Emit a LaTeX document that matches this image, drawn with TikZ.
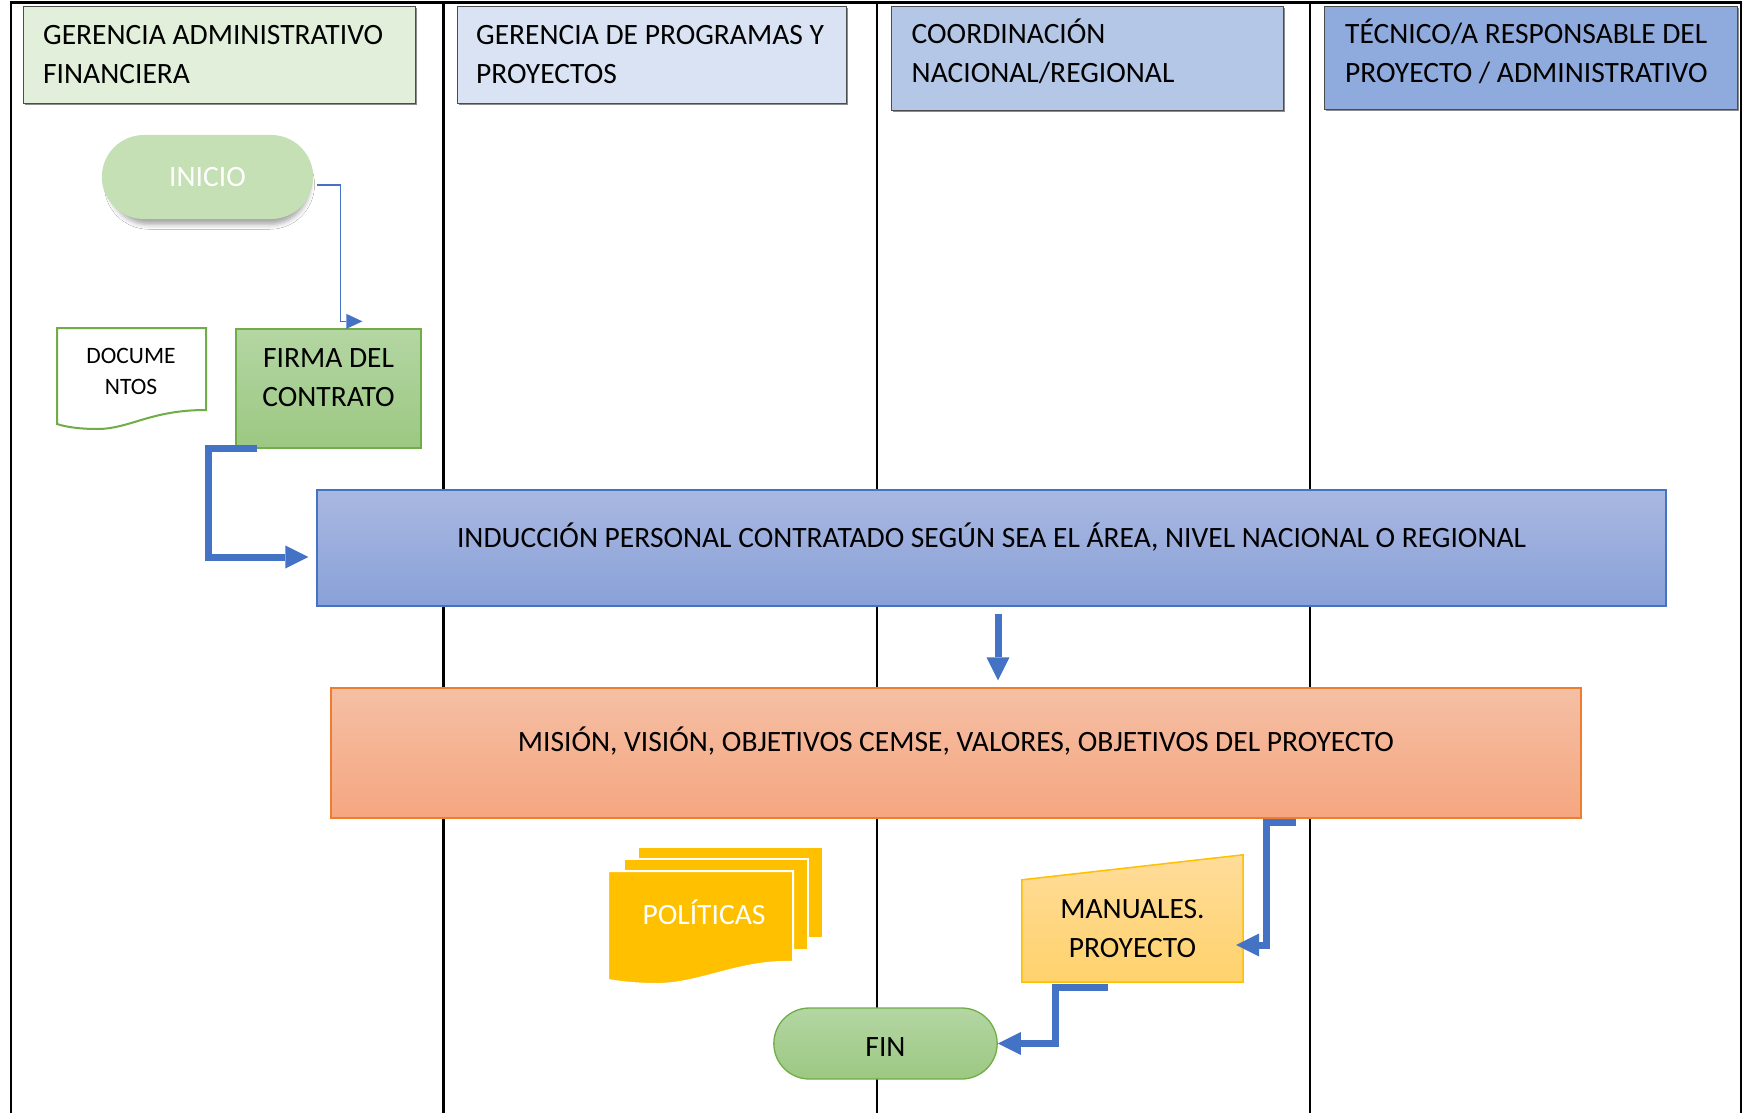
\documentclass[tikz,border=0pt]{standalone}
\usepackage{fontspec}
\setmainfont{Carlito}
\usetikzlibrary{arrows.meta,shapes.misc,shadows,shadows.blur,calc}
\definecolor{hdrA}{HTML}{E2EFDA}
\definecolor{hdrB}{HTML}{DAE3F3}
\definecolor{hdrC}{HTML}{B4C7E7}
\definecolor{hdrD}{HTML}{8FAADC}
\definecolor{startfill}{HTML}{C5E0B4}
\definecolor{grnTop}{HTML}{B4D6A3}
\definecolor{grnBot}{HTML}{9CC882}
\definecolor{grnLine}{HTML}{70AD47}
\definecolor{bluTop}{HTML}{A9B8E1}
\definecolor{bluBot}{HTML}{89A1D8}
\definecolor{bluLine}{HTML}{4472C4}
\definecolor{orgTop}{HTML}{F5BFA4}
\definecolor{orgBot}{HTML}{F5A680}
\definecolor{orgLine}{HTML}{ED7D31}
\definecolor{golTop}{HTML}{FFDC9A}
\definecolor{golBot}{HTML}{FFD26C}
\definecolor{gold}{HTML}{FFC000}
\newcommand\lanefont{\fontsize{29.5pt}{39pt}\selectfont}
\newcommand\docfont{\fontsize{23.5pt}{31pt}\selectfont}

\begin{document}
\begin{tikzpicture}[x=1pt,y=-1pt,
  lane/.style={line width=2.2pt,draw=black},
  hdr/.style={draw=black!70,line width=1pt,anchor=north west,inner sep=0pt,
    drop shadow={shadow xshift=1.5pt,shadow yshift=-1.5pt,opacity=0.45,fill=black}},
  hdrtxt/.style={anchor=west,align=left,inner sep=0pt,font=\lanefont,text=black},
  txt/.style={font=\lanefont,align=center,text=black},
  greenbox/.style={draw=grnLine,line width=1.3pt,top color=grnTop,bottom color=grnBot},
  flow/.style={draw=bluLine,line width=7pt,line join=miter,
    -{Triangle[length=23pt,width=23pt,line width=0pt]}},
  thinflow/.style={draw=bluLine,line width=1.5pt,
    -{Triangle[length=16pt,width=15pt,line width=0pt]}}
]
\fill[white] (0,0) rectangle (1743,1113);
\useasboundingbox (0,0) rectangle (1743,1113);

% swimlane frame
\draw[lane,line width=3pt] (9.9,3) -- (1742.1,3);
\foreach \x in {11,443.5,877,1310,1741}
  \draw[lane] (\x,3) -- (\x,1113);

% lane headers
\node[hdr,fill=hdrA,minimum width=392pt,minimum height=97pt] (h1) at (23,6) {};
\node[hdr,fill=hdrB,minimum width=389pt,minimum height=97pt] (h2) at (457,6) {};
\node[hdr,fill=hdrC,minimum width=392pt,minimum height=104pt] (h3) at (891,6) {};
\node[hdr,fill=hdrD,minimum width=413pt,minimum height=103pt] (h4) at (1324,6) {};
\node[hdrtxt] (h1t) at ([shift={(20,48.5)}]h1.north west) {GERENCIA ADMINISTRATIVO\\FINANCIERA};
\node[hdrtxt] (h2t) at ([shift={(19,48.5)}]h2.north west) {GERENCIA DE PROGRAMAS Y\\PROYECTOS};
\node[hdrtxt] (h3t) at ([shift={(20.5,45.5)}]h3.north west) {COORDINACIÓN\\NACIONAL/REGIONAL};
\node[hdrtxt] (h4t) at ([shift={(21,45.5)}]h4.north west) {TÉCNICO/A RESPONSABLE DEL\\PROYECTO / ADMINISTRATIVO};

% start terminator
\node[rounded rectangle,fill=startfill,minimum width=218pt,minimum height=84pt,
  font=\lanefont,text=white,
  blur shadow={shadow xshift=2pt,shadow yshift=-8pt,shadow scale=0.95,
    shadow blur radius=5pt,shadow opacity=35}]
  (ini) at (207.5,177) {INICIO};

% contract signing
\node[greenbox,minimum width=185pt,minimum height=119pt,
  label={[txt,yshift=11pt]center:{FIRMA DEL\\CONTRATO}}] (firma) at (328.5,388.5) {};

% documents symbol
\draw[draw=grnLine,line width=2pt,fill=white]
  (57,328) -- (206,328) -- (206,410)
  .. controls (150,410) and (130,429) .. (97,429)
  .. controls (80,429) and (66,427) .. (57,424) -- cycle;
\node[font=\docfont,align=center] (doc) at (131,371) {DOCUME\\NTOS};

% induction process
\node[draw=bluLine,line width=1.3pt,top color=bluTop,bottom color=bluBot,
  minimum width=1349pt,minimum height=116pt,
  label={[txt,yshift=11pt]center:{INDUCCIÓN PERSONAL CONTRATADO SEGÚN SEA EL ÁREA, NIVEL NACIONAL O REGIONAL}}]
  (ind) at (991.5,548) {};

% mission / vision
\node[draw=orgLine,line width=1.3pt,top color=orgTop,bottom color=orgBot,
  minimum width=1250pt,minimum height=130pt,
  label={[txt,yshift=11.5pt]center:{MISIÓN, VISIÓN, OBJETIVOS CEMSE, VALORES, OBJETIVOS DEL PROYECTO}}]
  (mis) at (956,753) {};

% policies (multi-document)
\begin{scope}[draw=white,line width=2pt,fill=gold]
  \filldraw (638,847) rectangle (823,938);
  \filldraw (624,859) rectangle (808,950);
  \filldraw (608,871) -- (793,871) -- (793,962)
    .. controls (740,960) and (700,984) .. (657,984)
    .. controls (635,984) and (620,982) .. (608,980) -- cycle;
\end{scope}
\node[font=\lanefont,text=white] (pol) at (704,912) {POLÍTICAS};

% project manuals (manual input)
\node[minimum width=221pt,minimum height=127pt,inner sep=0pt] (man) at (1132.5,918.5) {};
\draw[top color=golTop,bottom color=golBot,draw=gold,line width=1.5pt]
  (man.south west) -- (man.south east) -- (man.north east)
  -- ([yshift=-25pt]man.north west) -- cycle;
\node[txt] (mantxt) at ([yshift=-10pt]man.center) {MANUALES.\\PROYECTO};

% end terminator
\node[rounded rectangle,draw=grnLine,line width=1.3pt,top color=grnTop,bottom color=grnBot,
  minimum width=230pt,minimum height=71pt,
  label={[txt,yshift=-4pt]center:FIN}] (fin) at (885.5,1043.5) {};

% connectors
\draw[thinflow] ([shift={(4,8)}]ini.east) -- ++(23,0) |- ([shift={(127,-7)}]firma.north west);
\draw[flow] ([xshift=22pt]firma.south west) -- ++(-49,0) |- ([shift={(-8,9)}]ind.west);
\draw[flow] ([shift={(6.5,7)}]ind.south) -- ([shift={(42,-7)}]mis.north);
\draw[flow] ([shift={(340,4)}]mis.south) -- ++(-30,0) |- ([shift={(-7,26.5)}]man.east);
\draw[flow] ([shift={(-24.5,5)}]man.south) -- ++(-53,0) |- (fin.east);
\end{tikzpicture}
\end{document}
